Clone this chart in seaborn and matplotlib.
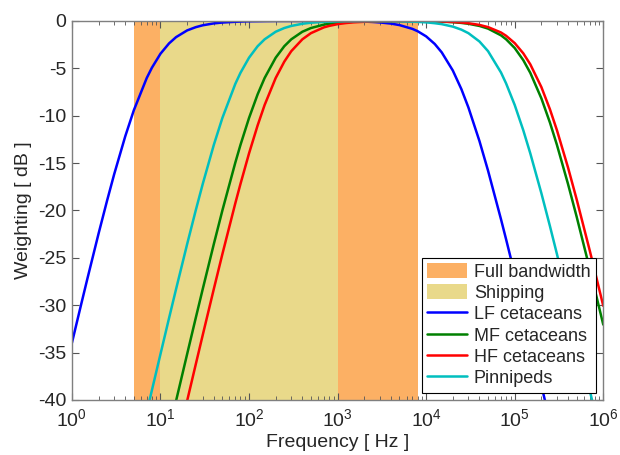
import numpy as np
import pandas as pd
import seaborn as sns
from matplotlib import pyplot as plt
from matplotlib.patches import Patch
from matplotlib.lines import Line2D

# frequencies [Hz] and weighting [dB]
freq = [1, 1.25, 1.5, 2, 2.5, 3, 4, 5, 7, 8,
        10, 12.5, 15, 20, 25, 30, 40, 50, 70, 80,
        100, 125, 150, 200, 250, 300, 400, 500, 700, 800,
        1e3, 1250, 1500, 2e3, 2500, 3e3, 4e3, 5e3, 7e3, 8e3,
        1e4, 12500, 15000, 2e4, 25000, 3e4, 4e4, 5e4, 7e4, 8e4,
        1e5, 125000, 150000, 2e5, 250000, 3e5, 4e5, 5e5, 7e5, 8e5,
        1e6]

lf_cet = [-33.98, -30.20, -27.15, -22.44, -18.93, -16.18, -12.18, -9.43, -6.02, -4.94,
          -3.46, -2.37, -1.71, -1.00, -0.66, -0.46, -0.26, -0.17, -0.09, -0.07,
          -0.04, -0.03, -0.02, -0.01, -0.01, -0.01, -0.01, -0.01, -0.01, -0.01,
          -0.02, -0.03, -0.04, -0.07, -0.11, -0.16, -0.28, -0.44, -0.84, -1.08,
          -1.63, -2.43, -3.32, -5.23, -7.20, -9.13, -12.68, -15.80, -20.93, -23.06,
          -26.71, -30.44, -33.53, -38.45, -42.29, -45.43, -50.41, -54.27, -60.11, -62.43,
          -66.31]
mf_cet = [-87.04, -83.17, -80.00, -75.00, -71.13, -67.96, -62.97, -59.09, -53.26, -50.94,
          -47.08, -43.23, -40.09, -35.16, -31.36, -28.30, -23.56, -20.00, -14.95, -13.09,
          -10.24, -7.75, -6.02, -3.88, -2.67, -1.94, -1.14, -0.75, -0.39, -0.30,
          -0.19, -0.12, -0.09, -0.05, -0.03, -0.03, -0.02, -0.02, -0.02, -0.02,
          -0.04, -0.05, -0.08, -0.13, -0.21, -0.30, -0.53, -0.81, -1.52, -1.94,
          -2.86, -4.14, -5.48, -8.17, -10.73, -13.09, -17.21, -20.64, -26.08, -28.30,
          -32.05]
hf_cet = [-92.04, -88.17, -85.00, -80.00, -76.13, -72.96, -67.96, -64.09, -58.25, -55.93,
          -52.06, -48.20, -45.05, -40.09, -36.26, -33.15, -28.30, -24.61, -19.24, -17.21,
          -13.98, -11.03, -8.87, -6.02, -4.30, -3.19, -1.94, -1.29, -0.68, -0.53,
          -0.34, -0.22, -0.15, -0.09, -0.06, -0.04, -0.03, -0.02, -0.02, -0.02,
          -0.03, -0.04, -0.06, -0.11, -0.17, -0.24, -0.42, -0.65, -1.22, -1.57,
          -2.34, -3.42, -4.58, -6.98, -9.33, -11.54, -15.47, -18.81, -24.15, -26.34,
          -30.07]
pinnipeds = [-75.00, -71.13, -67.96, -62.97, -59.09, -55.93, -50.94, -47.08, -41.27, -38.98,
             -35.16, -31.36, -28.30, -23.56, -20.00, -17.21, -13.09, -10.24, -6.64, -5.48,
             -3.88, -2.67, -1.94, -1.14, -0.75, -0.53, -0.30, -0.19, -0.10, -0.08,
             -0.05, -0.03, -0.03, -0.02, -0.02, -0.02, -0.03, -0.04, -0.08, -0.10,
             -0.15, -0.24, -0.34, -0.60, -0.92, -1.29, -2.17, -3.19, -5.44, -6.60,
             -8.87, -11.54, -13.98, -18.18, -21.66, -24.61, -29.38, -33.15, -38.90, -41.20,
             -45.05]

groups = ["LF cetaceans", "MF cetaceans", "HF cetaceans", "Pinnipeds"]
colors = ["#0000ff", "#008000", "#ff0000", "#00bfbf"]

full_band = (5, 8000)
shipping_band = (10, 1000)
band_colors = ["#fcb064", "#e9d98a"]

sns.set_style("ticks")
plt.rcParams["font.family"] = ["Liberation Sans", "DejaVu Sans"]
plt.rcParams["axes.unicode_minus"] = False

df = pd.DataFrame({
    "freq": freq * 4,
    "weight": lf_cet + mf_cet + hf_cet + pinnipeds,
    "group": np.repeat(groups, len(freq)),
})

fig = plt.figure(figsize=(6.2, 4.55), dpi=100)
ax = fig.add_axes([0.116, 0.121, 0.857, 0.833])

ax.axvspan(*full_band, color=band_colors[0], lw=0, zorder=0)
ax.axvspan(*shipping_band, color=band_colors[1], lw=0, zorder=0)

sns.lineplot(data=df, x="freq", y="weight", hue="group", hue_order=groups,
             palette=dict(zip(groups, colors)), linewidth=1.8, legend=False, ax=ax)

ax.set_xscale("log")
ax.set_xlim(1, 1e6)
ax.set_ylim(-40, 0)
ax.set_xticks([10.0 ** k for k in range(7)])
ax.set_xticklabels([rf"$\mathregular{{10^{{{k}}}}}$" for k in range(7)])
ax.set_yticks(range(-40, 1, 5))
ax.tick_params(axis="both", which="both", direction="in", top=True, right=True,
               labelsize=14, color="#555555")
ax.tick_params(axis="x", pad=6)
ax.tick_params(axis="y", pad=4)
ax.tick_params(which="major", length=5)
ax.tick_params(which="minor", length=3)
for s in ax.spines.values():
    s.set_color("#7f7f7f")
    s.set_linewidth(1.0)

ax.set_xlabel("Frequency [ Hz ]", fontsize=14, labelpad=3)
ax.set_ylabel("Weighting [ dB ]", fontsize=14, labelpad=4)

handles = [Patch(facecolor=band_colors[0], edgecolor="none"),
           Patch(facecolor=band_colors[1], edgecolor="none")]
handles += [Line2D([], [], color=c, lw=1.8) for c in colors]
leg = ax.legend(handles, ["Full bandwidth", "Shipping"] + groups, loc="lower right",
                fontsize=13, frameon=True, fancybox=False, edgecolor="black",
                framealpha=1, borderpad=0.3, labelspacing=0.2, handlelength=2.2,
                handleheight=0.9, handletextpad=0.4, borderaxespad=0.4)
leg.get_frame().set_linewidth(0.8)

fig.savefig("out.png", dpi=100)
